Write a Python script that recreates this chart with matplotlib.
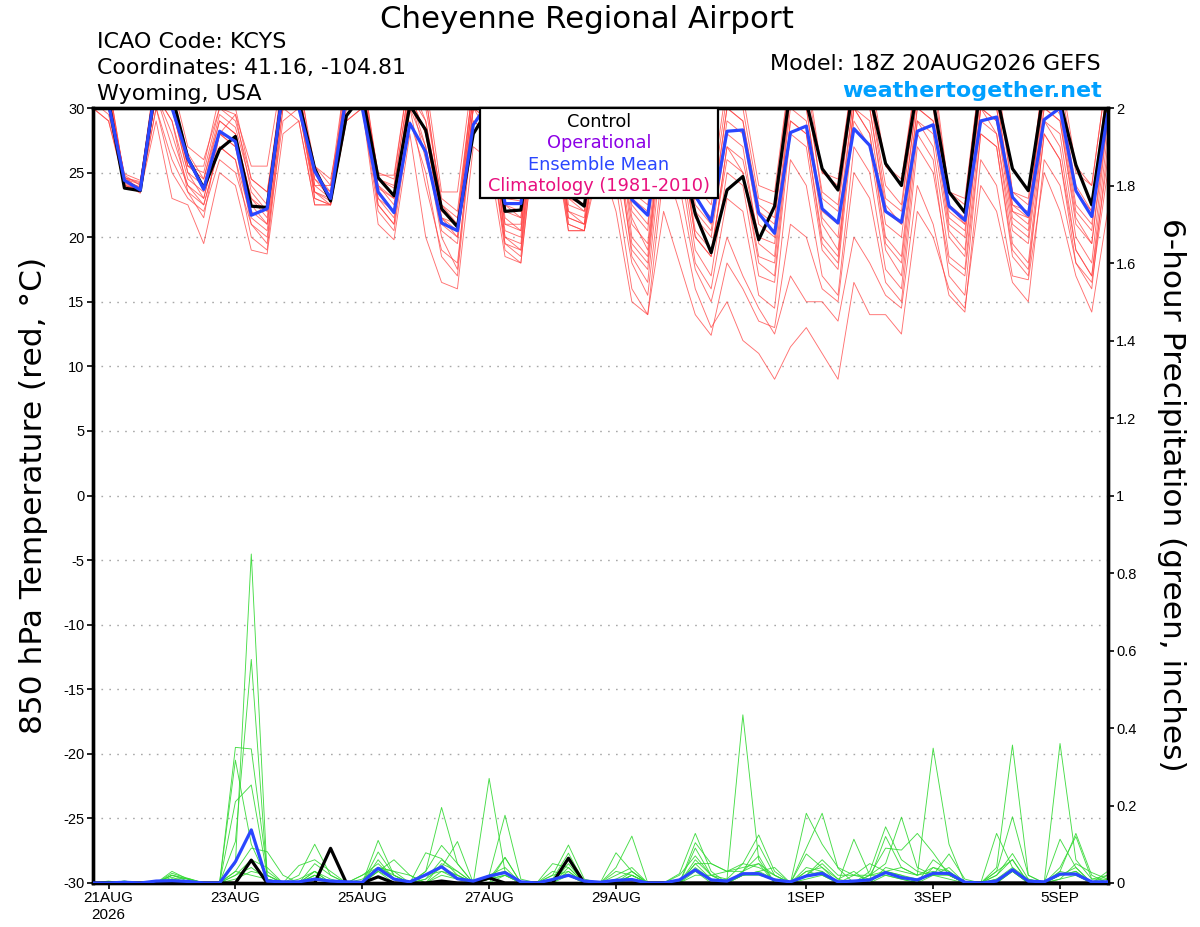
import matplotlib
matplotlib.use("Agg")
import matplotlib.pyplot as plt
from matplotlib.patches import Rectangle
import pandas as pd

plt.rcParams['font.family'] = ['Liberation Sans', 'DejaVu Sans']
plt.rcParams['axes.unicode_minus'] = False

# ---------------- DATA ----------------
times = pd.date_range('2026-08-20 18:00', periods=65, freq='6h')

tick_dates = ['2026-08-21', '2026-08-23', '2026-08-25', '2026-08-27',
              '2026-08-29', '2026-09-01', '2026-09-03', '2026-09-05']
tick_labels = ['21AUG\n2026', '23AUG', '25AUG', '27AUG', '29AUG', '1SEP', '3SEP', '5SEP']

temp_ticks = [30, 25, 20, 15, 10, 5, 0, -5, -10, -15, -20, -25, -30]
precip_ticks = [0, 0.2, 0.4, 0.6, 0.8, 1, 1.2, 1.4, 1.6, 1.8, 2]
precip_tick_labels = ['0', '0.2', '0.4', '0.6', '0.8', '1', '1.2', '1.4', '1.6', '1.8', '2']

# 850 hPa temperature, control and ensemble mean (deg C)
temp_control = [32, 30.5, 23.8, 23.6, 32, 31, 26.1, 23.8, 26.8, 27.8, 22.4, 22.3,
                31.5, 30.5, 25.3, 22.8, 29.4, 31, 24.6, 23.2, 30.2, 28.3, 22.2, 20.8,
                28.0, 30, 22.0, 22.1, 30.5, 29, 23.3, 22.4, 31, 30, 24, 23.2,
                30, 27, 21.8, 18.8, 23.65, 24.7, 19.8, 22.4, 31.5, 30.5, 25.3, 23.65,
                32, 31, 25.7, 24.0, 31.5, 30.5, 23.5, 21.9, 32, 31, 25.3, 23.6,
                31.5, 30.5, 25.6, 22.5, 31]
temp_mean = [31.5, 30.3, 24.4, 23.65, 32.0, 30.0, 26.1, 23.7, 28.2, 27.4, 21.7, 22.2,
             31.5, 30.0, 25.1, 23.0, 31.0, 30.0, 23.5, 21.9, 28.8, 26.6, 21.1, 20.5,
             28.7, 30.5, 22.6, 22.6, 30.5, 29, 24.5, 23.3, 31, 30.5, 22.9, 21.7,
             30, 28.5, 23.2, 21.2, 28.2, 28.3, 21.85, 20.3, 28.1, 28.6, 22.2, 21.1,
             28.4, 27.1, 22.0, 21.15, 28.2, 28.7, 22.4, 21.3, 29.0, 29.3, 23.1, 21.7,
             29.1, 30.0, 23.6, 21.6, 29.5]

# ensemble members, 850 hPa temperature (deg C)
t_m01 = [32, 31, 24.8, 24.0, 33, 31, 26.5, 24.5, 29.5, 28.5, 24, 22.5, 33, 31, 25, 23.5,
         32, 33, 24.5, 23.8, 32, 30, 23, 22, 32, 31, 22.5, 22, 33, 32, 23.5, 23,
         33, 32, 23.5, 22.5, 33, 32, 24, 22.5, 31, 30, 23, 22.5, 33, 32, 25, 24,
         33, 32, 25.5, 24, 33, 32, 23.5, 22.5, 33, 32, 23.5, 23, 33, 32, 25, 24, 33]
t_m02 = [33, 32, 24.5, 23.8, 32, 30, 25, 23, 28, 29.5, 23.5, 22, 32, 33, 24, 23,
         33, 32, 25, 24.5, 33, 31, 22, 21, 31, 32, 21.5, 20.5, 32, 33, 22.5, 22,
         32, 31, 22, 20.5, 32, 31, 22.5, 21, 30, 29, 22, 21, 32, 31.5, 23, 22,
         32, 31, 23, 22, 32, 30.5, 22, 21, 32, 31, 22.5, 21.5, 32, 31, 23.5, 22, 32]
t_m03 = [31, 30, 24.2, 23.5, 31, 27, 24, 22.5, 27, 26, 21.5, 20.5, 30, 31, 24.5, 23,
         31, 32, 23.5, 22, 31, 27, 20.5, 19.5, 30, 29, 20.5, 20, 31, 30, 22, 21.5,
         30, 29, 21, 19.5, 31, 29, 21.5, 20, 28, 27, 19.5, 18.5, 31, 30, 22, 21,
         31, 30, 22.5, 21, 31, 30, 21, 20, 31, 30, 21.5, 20.5, 31, 29.5, 22, 20.5, 31]
t_m04 = [32, 31.5, 24.6, 24.3, 32, 31, 25.5, 25, 30, 29, 24.5, 23.5, 31, 32, 23, 22.5,
         32, 31, 24, 23, 31, 28, 21, 20, 30, 28, 19.5, 19, 32, 31, 21.5, 21,
         31, 30, 20, 18.5, 30, 28, 20, 18.5, 27, 26, 20, 19.5, 30, 29, 21, 19,
         30, 28, 20, 18.5, 30, 29, 20.5, 19, 30, 29, 21, 20, 30, 29, 21, 19.5, 30]
t_m05 = [30, 29, 24.0, 23.7, 30, 25, 23, 22, 26, 25, 21, 20, 29, 30, 23.5, 23,
         30, 31, 22.5, 21, 30, 24, 19, 18, 29, 28, 19.5, 18.5, 30, 29, 21, 20.5,
         29, 27, 19, 17.5, 29, 27, 19, 17, 25, 24, 17, 16.5, 28, 27, 19, 17.5,
         29, 27, 19, 17, 29, 27, 18.5, 17.5, 29, 28, 19.5, 18, 29, 27, 19, 17, 28]
t_m06 = [31, 30.5, 24.3, 23.9, 31, 29, 24.5, 23.5, 28, 27, 22, 21, 31, 30, 24, 24,
         31, 30, 23, 21.5, 31, 26, 21.5, 20.5, 30, 30, 20, 19.5, 31, 30, 21.5, 21,
         29, 28, 18.5, 16.5, 28, 26, 18, 16, 23, 22, 15.5, 14.5, 26, 24, 17, 15.5,
         27, 25, 17.5, 16, 28, 26, 17, 15.5, 28, 27, 18.5, 17, 28, 26, 18, 16, 27]
t_m07 = [32, 31, 24.7, 23.6, 32, 30, 25.5, 24.5, 29, 28, 23, 21.5, 32, 31, 25.5, 24.5,
         31, 32, 24, 22.5, 31, 28, 21.5, 21, 31, 30, 21, 20.5, 32, 30, 22, 21,
         28, 25, 18, 15.5, 26, 22, 16, 13, 15, 12, 11, 9, 11.5, 13, 11, 9,
         16.5, 14, 14, 12.5, 22, 20, 16, 14.5, 24, 22, 16.5, 15, 26, 24, 18, 16.5, 25]
t_m08 = [30.5, 29.5, 24.1, 23.4, 30, 26, 23.5, 22.5, 27, 26, 20, 19, 30, 29, 22.5, 22.5,
         29, 30, 22, 20.5, 29, 25, 18.5, 17, 29, 28, 19, 18, 29, 28, 20.5, 20.5,
         27, 24, 16, 14, 25, 24, 17.5, 15, 20, 17, 14.5, 12.5, 17, 15, 15, 13.5,
         20, 18, 15.5, 14.5, 24, 21, 15.5, 14.2, 26, 24, 17, 16.7, 25, 22, 17, 14.2, 22]
t_m09 = [31, 31, 24.4, 23.8, 31, 29, 23.5, 21.5, 28, 27.5, 22.5, 21, 31, 30, 23.5, 22.5,
         32, 31, 23, 22, 32, 29, 21.5, 20, 31, 30, 21, 21, 31, 31, 23, 22,
         31, 29, 21.5, 19, 30, 28, 20.5, 19, 26, 25, 18.5, 18, 29, 28, 20, 18.5,
         30, 29, 21, 20, 30, 29, 21.5, 20.5, 30, 29, 22, 21, 30, 29, 21.5, 19.5, 29]
t_m10 = [33, 32, 24.6, 24.2, 33, 32, 27, 26, 30, 29.5, 25.5, 25.5, 33, 32, 25.5, 24,
         33, 33, 24.8, 24.8, 33, 32, 23.5, 23.5, 33, 32, 23, 22.8, 33, 33, 24, 23.5,
         33, 32, 24, 23.5, 33, 32, 24, 23.5, 32, 31, 24, 23.5, 33, 33, 25, 24.5,
         33, 33, 25.5, 24.5, 33, 33, 23.5, 23, 33, 33, 23.5, 22.5, 33, 33, 25.5, 24, 33]
t_m11 = [30, 29, 24.3, 23.5, 29, 23, 22.5, 19.5, 25, 24, 19, 18.7, 28, 29, 22.5, 22.5,
         29, 30, 21, 19.8, 28, 20, 16.5, 16, 27, 26, 18.5, 18, 29, 29, 20.5, 20.5,
         29, 28, 19.5, 18, 30, 28, 20, 18.5, 27, 25, 18, 17, 29, 28, 19.5, 18,
         30, 28, 19.5, 18, 29, 28, 20, 18.5, 30, 28, 20.5, 19.5, 29, 28, 20, 18, 29]
t_m12 = [32, 30.5, 24.5, 24.1, 32, 30, 25, 24, 29, 28, 23, 22, 32, 31, 24.5, 23.5,
         31, 31, 23.8, 23, 31, 29, 22.5, 21.5, 32, 31, 22, 21.5, 32, 31, 23, 22.5,
         32, 30, 22.5, 21, 31, 29, 22, 20.5, 29, 28, 21, 20, 31, 30, 21.5, 20,
         31, 30, 22, 21, 31, 31, 22.5, 21.5, 31, 30, 22.5, 22, 31, 30, 22.5, 21, 31]
t_m13 = [31.5, 30, 24.0, 23.6, 31, 28, 24, 23, 28, 27, 21, 19.5, 31, 30, 23, 22.5,
         30, 31, 22.5, 21, 30, 27, 20, 17.5, 30, 29, 20, 19, 30, 30, 21, 20.5,
         26, 22, 15, 14, 22, 18, 14, 12.4, 18, 16, 13.5, 13, 21, 20, 16, 15,
         25, 23, 16.5, 15, 27, 25, 18, 17, 28, 27, 19, 17.5, 28, 26, 19, 17, 26]
t_m14 = [32, 31, 24.9, 24.4, 32, 31, 25.5, 25.5, 31, 30, 24.5, 23.5, 32, 32, 23.5, 22.8,
         32, 32, 24.5, 24, 32, 31, 22.5, 21, 32, 31, 22.5, 21.5, 32, 32, 23.5, 22.5,
         32, 31, 23, 22, 32, 30, 23, 21.5, 30, 29, 22.5, 21.5, 32, 31, 23.5, 22.5,
         32, 31, 24, 22.5, 32, 31, 22.5, 21, 32, 31, 22, 21.5, 32, 31, 24, 22, 32]

# 6-hour precipitation, control and ensemble mean (inches)
precip_control = [0, 0, 0, 0, 0, 0, 0, 0, 0, 0, 0.059, 0, 0, 0, 0, 0.0895,
                  0, 0, 0.016, 0, 0, 0, 0.005, 0, 0, 0.013, 0, 0, 0, 0, 0.064, 0,
                  0, 0, 0, 0, 0, 0, 0, 0, 0, 0, 0, 0, 0, 0, 0, 0,
                  0, 0, 0, 0, 0, 0, 0, 0, 0, 0, 0, 0, 0, 0, 0, 0, 0]
precip_mean = [0, 0, 0.002, 0, 0.005, 0.006, 0.004, 0, 0, 0.055, 0.137, 0.005, 0.003, 0.003, 0.01, 0.005,
               0.003, 0.002, 0.038, 0.01, 0.003, 0.021, 0.042, 0.011, 0.005, 0.018, 0.027, 0.003, 0, 0.009, 0.02, 0.005,
               0.002, 0.007, 0.009, 0, 0, 0.008, 0.034, 0.008, 0.005, 0.024, 0.024, 0.008, 0.003, 0.018, 0.025, 0.003,
               0.005, 0.008, 0.027, 0.014, 0.008, 0.025, 0.025, 0.002, 0, 0.005, 0.034, 0.005, 0.003, 0.023, 0.023, 0.003, 0.003]

# ensemble members, 6-hour precipitation (inches)
p_m01 = [0, 0, 0, 0, 0, 0.01, 0, 0, 0, 0.05, 0.849, 0.02, 0, 0, 0.02, 0,
         0, 0, 0.03, 0, 0, 0.02, 0.04, 0.02, 0, 0.27, 0.03, 0, 0, 0, 0.02, 0,
         0, 0, 0.03, 0, 0, 0, 0.03, 0, 0.01, 0.434, 0.06, 0, 0, 0.03, 0.04, 0,
         0, 0, 0.02, 0.01, 0, 0.04, 0.02, 0, 0, 0, 0.03, 0, 0, 0.02, 0.03, 0, 0]
p_m02 = [0, 0, 0.005, 0, 0, 0.02, 0.01, 0, 0, 0.107, 0.577, 0.01, 0, 0.01, 0.03, 0,
         0, 0.02, 0.05, 0.01, 0, 0.03, 0.195, 0.05, 0, 0, 0.02, 0, 0, 0.02, 0.03, 0,
         0, 0.02, 0.04, 0, 0, 0, 0.06, 0.02, 0, 0.02, 0.03, 0.01, 0, 0.02, 0.05, 0.01,
         0.03, 0, 0.04, 0.03, 0.02, 0.348, 0.1, 0, 0, 0.03, 0.06, 0, 0, 0.03, 0.02, 0, 0.01]
p_m03 = [0, 0, 0, 0, 0, 0.015, 0, 0, 0, 0.35, 0.346, 0.03, 0, 0, 0.02, 0,
         0, 0, 0.04, 0.02, 0, 0, 0.03, 0.02, 0, 0.02, 0.175, 0.01, 0, 0.05, 0.04, 0,
         0, 0, 0.02, 0, 0, 0, 0.04, 0.01, 0, 0.03, 0.05, 0, 0, 0.02, 0.06, 0.02,
         0.02, 0.02, 0.03, 0.02, 0, 0.06, 0.03, 0, 0, 0.04, 0.356, 0.02, 0, 0.02, 0.04, 0, 0]
p_m04 = [0, 0.005, 0, 0, 0, 0.02, 0.01, 0, 0, 0.317, 0.10, 0.01, 0, 0.045, 0.06, 0.03,
         0, 0, 0.03, 0.01, 0, 0.01, 0.06, 0.03, 0, 0.02, 0.04, 0, 0, 0, 0.05, 0,
         0, 0.03, 0.02, 0, 0, 0, 0.05, 0.05, 0.03, 0.05, 0.04, 0.02, 0, 0.18, 0.1, 0.04,
         0.02, 0.01, 0.03, 0.04, 0.02, 0.03, 0.02, 0, 0, 0.01, 0.04, 0, 0, 0.36, 0.06, 0.01, 0.02]
p_m05 = [0, 0, 0, 0, 0, 0.025, 0.012, 0, 0, 0.21, 0.253, 0.02, 0, 0, 0.01, 0,
         0, 0.01, 0.04, 0.03, 0.02, 0, 0.05, 0.03, 0, 0.01, 0.02, 0, 0, 0.03, 0.02, 0,
         0, 0.01, 0.03, 0, 0, 0.02, 0.07, 0.02, 0, 0.02, 0.02, 0.01, 0, 0.09, 0.18, 0.038,
         0, 0.02, 0.05, 0.17, 0.04, 0.02, 0.075, 0.01, 0, 0.03, 0.171, 0.02, 0, 0.01, 0.05, 0.027, 0.01]
p_m06 = [0, 0, 0, 0, 0, 0.01, 0, 0, 0, 0.03, 0.09, 0.081, 0.02, 0, 0.03, 0.01,
         0, 0, 0.11, 0.02, 0, 0.02, 0.03, 0.01, 0, 0.01, 0.02, 0, 0, 0, 0.03, 0,
         0, 0.04, 0.121, 0, 0, 0, 0.05, 0.01, 0, 0.02, 0.03, 0.04, 0, 0.075, 0.04, 0.01,
         0, 0.03, 0.145, 0.06, 0.03, 0.02, 0.04, 0, 0, 0.02, 0.076, 0.01, 0, 0.02, 0.03, 0, 0.03]
p_m07 = [0, 0, 0, 0, 0, 0.02, 0.005, 0, 0, 0.02, 0.06, 0.04, 0, 0.02, 0.1, 0.02,
         0, 0.02, 0.04, 0.03, 0, 0.01, 0.04, 0.107, 0, 0.02, 0.03, 0, 0, 0.01, 0.02, 0,
         0, 0, 0.02, 0, 0, 0.024, 0.128, 0.03, 0, 0.03, 0.07, 0, 0, 0.04, 0.03, 0,
         0.02, 0.05, 0.03, 0.02, 0.01, 0.02, 0.02, 0, 0, 0.02, 0.061, 0, 0, 0.03, 0.128, 0.02, 0]
p_m08 = [0, 0, 0.005, 0, 0, 0.01, 0, 0, 0, 0.01, 0.03, 0.02, 0, 0, 0.05, 0.02,
         0, 0, 0.08, 0.02, 0, 0.03, 0.097, 0.05, 0, 0.01, 0.066, 0, 0, 0.02, 0.098, 0.01,
         0, 0, 0.01, 0, 0, 0, 0.02, 0.02, 0.01, 0.05, 0.124, 0.03, 0, 0.03, 0.02, 0,
         0.113, 0.02, 0.02, 0.01, 0, 0.02, 0.01, 0, 0, 0.128, 0.04, 0.01, 0, 0.01, 0.02, 0, 0.02]
p_m09 = [0, 0, 0, 0, 0, 0.03, 0.01, 0, 0, 0.02, 0.04, 0.01, 0, 0, 0.02, 0,
         0, 0, 0.06, 0.01, 0, 0.078, 0.063, 0.02, 0, 0.01, 0.03, 0, 0, 0, 0.04, 0,
         0, 0.078, 0.03, 0, 0, 0, 0.104, 0.05, 0.03, 0.04, 0.05, 0.02, 0, 0.02, 0.03, 0,
         0, 0.02, 0.09, 0.085, 0.128, 0.078, 0.02, 0, 0, 0, 0.03, 0, 0, 0.113, 0.04, 0, 0]
p_m10 = [0, 0, 0, 0, 0, 0.01, 0.012, 0, 0, 0.03, 0.02, 0.01, 0, 0, 0.03, 0,
         0, 0, 0.03, 0.06, 0.02, 0, 0.02, 0.01, 0, 0, 0.066, 0, 0, 0.01, 0.077, 0,
         0, 0, 0.02, 0, 0, 0, 0.09, 0.02, 0.03, 0.03, 0.098, 0.02, 0, 0.01, 0.02, 0,
         0, 0.01, 0.12, 0.04, 0.02, 0.04, 0.03, 0, 0, 0.01, 0.03, 0, 0, 0.04, 0.12, 0.01, 0.01]

temp_members = [t_m01, t_m02, t_m03, t_m04, t_m05, t_m06, t_m07,
                t_m08, t_m09, t_m10, t_m11, t_m12, t_m13, t_m14]
precip_members = [p_m01, p_m02, p_m03, p_m04, p_m05, p_m06, p_m07, p_m08, p_m09, p_m10]

# ---------------- FIGURE ----------------
fig = plt.figure(figsize=(12, 9.27), dpi=100)
W, H = 1200, 927
ax_l, ax_r, ax_t, ax_b = 92.7, 1107.6, 108, 883
ax = fig.add_axes([ax_l / W, 1 - ax_b / H, (ax_r - ax_l) / W, (ax_b - ax_t) / H])

RED = '#ff4040'
GREEN = '#33d933'
BLUE = '#2a46ff'

for m in temp_members:
    ax.plot(times, m, color=RED, lw=0.65, alpha=0.75, zorder=2)
ax.plot(times, temp_control, color='black', lw=2.3, zorder=4)
ax.plot(times, temp_mean, color=BLUE, lw=2.3, zorder=5)

ax.set_ylim(-30, 30)
ax.set_xlim(times[0], times[-1])
ax.set_yticks(temp_ticks)
ax.set_yticklabels([str(v) for v in temp_ticks])
ax.grid(axis='y', linestyle=(0, (1.2, 4.5)), color='#a8a8a8', lw=1.0)
ax.set_xticks(pd.to_datetime(tick_dates))
ax.set_xticklabels(tick_labels)
ax.tick_params(axis='y', direction='out', length=4, width=1.2, labelsize=10.5, pad=2)
ax.tick_params(axis='x', direction='out', length=4, width=1.2, labelsize=11, pad=2)

ax2 = ax.twinx()
for m in precip_members:
    ax2.plot(times, m, color=GREEN, lw=0.65, alpha=0.9, zorder=2)
ax2.plot(times, precip_control, color='black', lw=2.3, zorder=4)
ax2.plot(times, precip_mean, color=BLUE, lw=2.3, zorder=5)
ax2.set_ylim(0, 2)
ax2.set_yticks(precip_ticks)
ax2.set_yticklabels(precip_tick_labels)
ax2.tick_params(axis='y', direction='out', length=4, width=1.2, labelsize=10.5, pad=2)
ax2.set_xlim(times[0], times[-1])

for a in (ax, ax2):
    for s in a.spines.values():
        s.set_linewidth(2.4)
        s.set_color('black')

# ---------------- TEXT ----------------
WIDE = ['DejaVu Sans']
fig.text(586.5 / W, 1 - 28.3 / H, 'Cheyenne Regional Airport', ha='center', va='baseline',
         fontsize=22.2, family=WIDE)
fig.text(97 / W, 1 - 48.3 / H, 'ICAO Code: KCYS', ha='left', va='baseline', fontsize=16, family=WIDE)
fig.text(97 / W, 1 - 74.3 / H, 'Coordinates: 41.16, -104.81', ha='left', va='baseline',
         fontsize=15.8, family=WIDE)
fig.text(97 / W, 1 - 100.3 / H, 'Wyoming, USA', ha='left', va='baseline', fontsize=16, family=WIDE)
fig.text(1101 / W, 1 - 70 / H, 'Model: 18Z 20AUG2026 GEFS', ha='right', va='baseline',
         fontsize=16, family=WIDE)
fig.text(1102 / W, 1 - 97.3 / H, 'weathertogether.net', ha='right', va='baseline', fontsize=16,
         fontweight='bold', color='#00a0ff', family=WIDE)
fig.text(42 / W, 1 - 495 / H, '850 hPa Temperature (red, °C)', rotation=90, rotation_mode='anchor',
         ha='center', va='baseline', fontsize=22.5, family=WIDE)
fig.text(1163 / W, 1 - 495 / H, '6-hour Precipitation (green, inches)', rotation=270,
         rotation_mode='anchor', ha='center', va='baseline', fontsize=22.5, family=WIDE)

# legend box
lx0, lx1, ly0, ly1 = 480, 718, 108, 198
fig.patches.append(Rectangle((lx0 / W, 1 - ly1 / H), (lx1 - lx0) / W, (ly1 - ly0) / H,
                             transform=fig.transFigure, facecolor='white', edgecolor='black',
                             lw=1.6, zorder=10))
legend_items = [('Control', 'black', 126.7), ('Operational', '#8c00e6', 148.3),
                ('Ensemble Mean', BLUE, 169.5), ('Climatology (1981-2010)', '#e8107e', 190.7)]
for txt, col, yy in legend_items:
    fig.text(599 / W, 1 - yy / H, txt, ha='center', va='baseline', fontsize=12.8, color=col,
             zorder=11, family=WIDE)

fig.savefig('out.png', dpi=100)
